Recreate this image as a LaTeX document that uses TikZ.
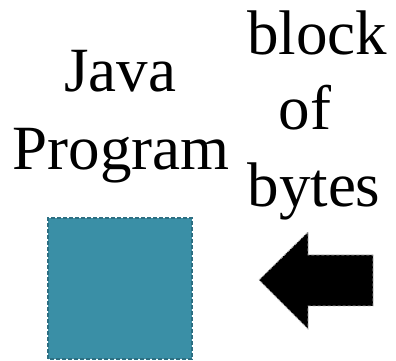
\documentclass[tikz,border=0pt]{standalone}
\usepackage{fontspec}
\setmainfont{Liberation Serif}
\definecolor{boxfill}{HTML}{3A8FA6}
\definecolor{boxline}{HTML}{2C6F82}
\begin{document}
\begin{tikzpicture}[x=1pt,y=1pt,
  label/.style={font=\fontsize{63}{76}\selectfont, inner sep=0pt, anchor=base},
  block/.style={fill=boxfill, draw=boxline, line width=1.2pt, dash pattern=on 4pt off 2pt},
  fatarrow/.style={fill=black, draw=white!70!black, line width=0.8pt, dash pattern=on 3pt off 2pt}]
\useasboundingbox (0,0) rectangle (396,361);
% captions
\node[label] (java) at (120,269) {Java};
\node[label] (prog) at (121,191) {Program};
\node[label] (blk) at (317,306) {block};
\node[label] (of) at (305,231) {of};
\node[label] (bytes) at (314,154) {bytes};
% program box
\path[block] (48,2) rectangle (192,143);
% incoming block arrow
\path[fatarrow] (259,81) -- (308,129) -- (308,106) -- (373,106) -- (373,55) -- (308,55) -- (308,32) -- cycle;
\end{tikzpicture}
\end{document}
